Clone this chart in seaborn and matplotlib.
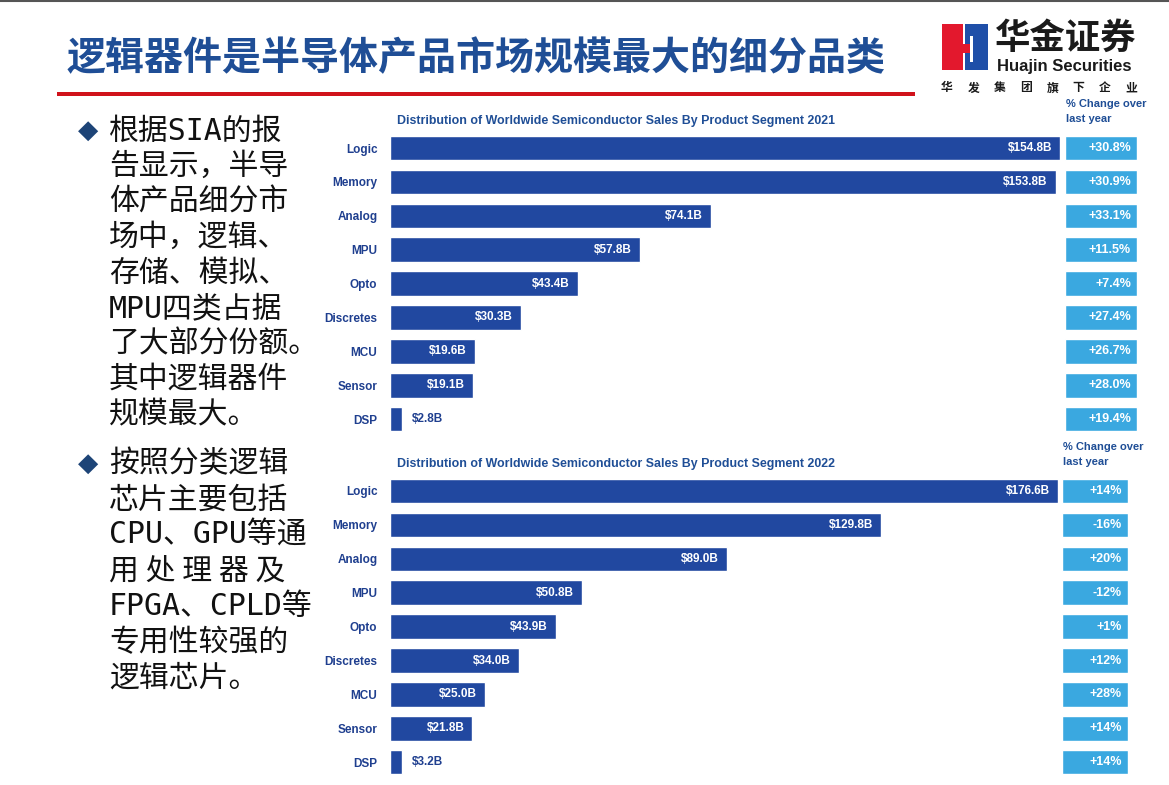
import matplotlib
matplotlib.use("Agg")
import matplotlib.pyplot as plt
import matplotlib.patches as mpatches
from matplotlib.transforms import offset_copy
import seaborn as sns
import numpy as np
import pandas as pd

W, H = 1169, 785

# -----------------------------
# Data
# -----------------------------
segments = ["Logic", "Memory", "Analog", "MPU", "Opto", "Discretes", "MCU", "Sensor", "DSP"]

sales_2021 = [154.8, 153.8, 74.1, 57.8, 43.4, 30.3, 19.6, 19.1, 2.8]
change_2021 = ["+30.8%", "+30.9%", "+33.1%", "+11.5%", "+7.4%", "+27.4%", "+26.7%", "+28.0%", "+19.4%"]

sales_2022 = [176.6, 129.8, 89.0, 50.8, 43.9, 34.0, 25.0, 21.8, 3.2]
change_2022 = ["+14%", "-16%", "+20%", "-12%", "+1%", "+12%", "+28%", "+14%", "+14%"]

title = "逻辑器件是半导体产品市场规模最大的细分品类"
group_line = "华发集团旗下企业"

bullet_1 = ["根据SIA的报", "告显示，半导", "体产品细分市", "场中，逻辑、", "存储、模拟、",
            "MPU四类占据", "了大部分份额。", "其中逻辑器件", "规模最大。"]
bullet_2 = ["按照分类逻辑", "芯片主要包括", "CPU、GPU等通", "用 处 理 器 及",
            "FPGA、CPLD等", "专用性较强的", "逻辑芯片。"]

BAR = "#2148a0"
LIGHT = "#3aa8e0"
NAVY = "#1f3f8f"
TITLE_BLUE = "#1f4e96"
RED = "#d0121b"

CJK = ["Noto Sans CJK SC", "DejaVu Sans"]
BODY = ["DejaVu Sans Mono", "Noto Sans CJK SC"]
LATIN = ["Liberation Sans Narrow", "Liberation Sans", "DejaVu Sans"]

sns.set_theme(style="white")
plt.rcParams["font.family"] = CJK

fig = plt.figure(figsize=(W / 100, H / 100), dpi=100)
fig.patch.set_facecolor("white")


def px_axes(x0, y0, x1, y1):
    return fig.add_axes([x0 / W, 1 - y1 / H, (x1 - x0) / W, (y1 - y0) / H])


def fx(x):
    return x / W


def fy(y):
    return 1 - y / H


# -----------------------------
# Header: title, red rule, logo
# -----------------------------
fig.add_artist(plt.Line2D([0, 1], [fy(0.5), fy(0.5)], color="#555555", lw=1.5))

fig.text(fx(67), fy(59), title, fontsize=28.1, fontweight="bold",
         color=TITLE_BLUE, va="center", ha="left", family=CJK)

fig.add_artist(mpatches.Rectangle((fx(57), fy(96)), fx(915 - 57), 4 / H,
                                  color=RED, lw=0))

# logo mark
fig.add_artist(mpatches.Rectangle((fx(942), fy(70)), fx(21), 46 / H, color="#e3182d", lw=0))
fig.add_artist(mpatches.Rectangle((fx(965), fy(70)), fx(23), 46 / H, color="#1f4fa8", lw=0))
fig.add_artist(mpatches.Rectangle((fx(961), fy(53)), fx(9), 9 / H, color="#e3182d", lw=0))
fig.add_artist(mpatches.Rectangle((fx(970), fy(62)), fx(3), 26 / H, color="white", lw=0))

fig.text(fx(995), fy(38), "华金证券", fontsize=25.5, fontweight="bold",
         color="#1a1a1a", va="center", ha="left", family=CJK)
fig.text(fx(997), fy(66), "Huajin Securities", fontsize=12, fontweight="bold",
         color="#1a1a1a", va="center", ha="left", family=["Liberation Sans", "DejaVu Sans"])
for i, ch in enumerate(group_line):
    fig.text(fx(947 + i * 26.3), fy(88), ch, fontsize=8.5, fontweight="bold",
             color="#1a1a1a", va="center", ha="center", family=CJK)

# -----------------------------
# Left bullet text
# -----------------------------
for start, step, lines in [(131, 35.5, bullet_1), (464, 35.7, bullet_2)]:
    fig.text(fx(88), fy(start), "◆", fontsize=19, color="#1d4477",
             va="center", ha="center", family=["DejaVu Sans"])
    for i, line in enumerate(lines):
        fam = BODY if any(c.isascii() and c.isalpha() for c in line) else CJK
        fig.text(fx(109), fy(start + i * step), line, fontsize=21.5,
                 color="#111111", va="center", ha="left", family=fam)


# -----------------------------
# Bar panels
# -----------------------------
def draw_panel(values, changes, year, first_center, bar_right, box_x0, box_x1):
    step = 33.9
    n = len(segments)
    top = first_center - step / 2
    bottom = first_center + (n - 1) * step + step / 2

    # main bars
    ax = px_axes(390, top, bar_right, bottom)
    df = pd.DataFrame({"segment": segments, "sales": values})
    sns.barplot(data=df, x="sales", y="segment", color=BAR, saturation=1,
                width=0.72, ax=ax)
    ax.set_xlim(0, max(values))
    ax.set_ylim(n - 0.5, -0.5)
    ax.set_xticks([])
    ax.set_xlabel("")
    ax.set_ylabel("")
    ax.tick_params(axis="y", length=0, pad=9, labelsize=8.5, labelcolor=NAVY)
    for lab in ax.get_yticklabels():
        lab.set_fontweight("bold")
        lab.set_family(LATIN)
    for s in ax.spines.values():
        s.set_visible(False)
    ax.patch.set_alpha(0)

    inside = offset_copy(ax.transData, fig=fig, x=-0.08, units="inches")
    outside = offset_copy(ax.transData, fig=fig, x=0.1, units="inches")
    for i, v in enumerate(values):
        label = f"${v:.1f}B"
        if v > 10:
            ax.text(v, i, label, transform=inside, ha="right", va="center",
                    color="white", fontsize=8.5, fontweight="bold", family=LATIN)
        else:
            ax.text(v, i, label, transform=outside, ha="left", va="center",
                    color=NAVY, fontsize=8.5, fontweight="bold", family=LATIN)

    # change boxes
    bx = px_axes(box_x0, top, box_x1, bottom)
    sns.barplot(x=np.ones(n), y=segments, color=LIGHT, saturation=1,
                width=0.72, ax=bx)
    bx.set_xlim(0, 1)
    bx.set_ylim(n - 0.5, -0.5)
    bx.axis("off")
    right = offset_copy(bx.transData, fig=fig, x=-0.06, units="inches")
    for i, c in enumerate(changes):
        bx.text(1, i, c, transform=right, ha="right", va="center",
                color="white", fontsize=9, fontweight="bold", family=LATIN)

    # headings
    fig.text(fx(397), fy(first_center - 27),
             f"Distribution of Worldwide Semiconductor Sales By Product Segment {year}",
             fontsize=8.9, fontweight="bold", color=TITLE_BLUE,
             va="center", ha="left", family=LATIN)
    fig.text(fx(box_x0 + 1), fy(first_center - 44), "% Change over",
             fontsize=8, fontweight="bold", color=TITLE_BLUE,
             va="center", ha="left", family=LATIN)
    fig.text(fx(box_x0 + 1), fy(first_center - 29), "last year",
             fontsize=8, fontweight="bold", color=TITLE_BLUE,
             va="center", ha="left", family=LATIN)


draw_panel(sales_2021, change_2021, 2021, 148, 1060, 1065, 1137)
draw_panel(sales_2022, change_2022, 2022, 491, 1058, 1062, 1128)

fig.savefig("out.png", dpi=100)
plt.close(fig)
